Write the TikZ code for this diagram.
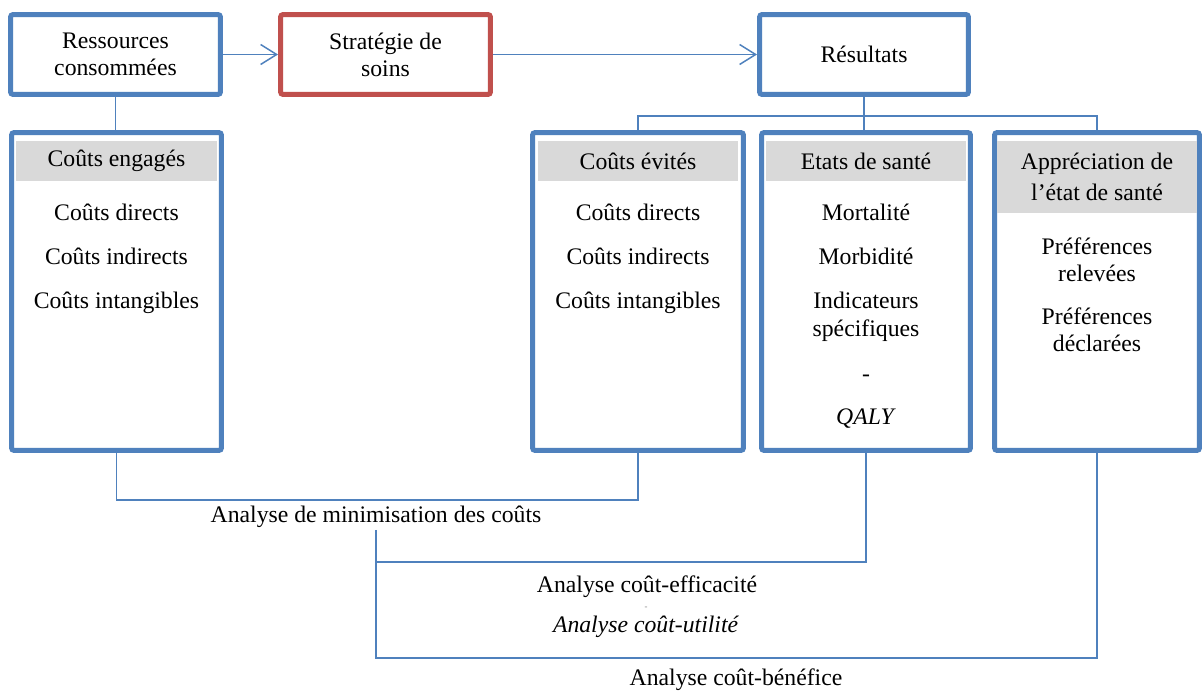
\documentclass[tikz,border=0pt]{standalone}
\usepackage{fontspec}
\setmainfont{Liberation Serif}
\usetikzlibrary{positioning,arrows.meta}

\definecolor{boxblue}{HTML}{4F81BD}
\definecolor{boxred}{HTML}{C0504D}
\definecolor{bandgray}{HTML}{D9D9D9}

\tikzset{
	box/.style = {draw=boxblue, line width=0.1cm, rounded corners=1.5pt, fill=white, align=center, minimum height=1.6cm},
	column/.style = {box, minimum height=6.36cm},
	band/.style = {fill=bandgray, minimum width=4.02cm, minimum height=0.8cm, align=center, inner sep=0pt},
	items/.style = {align=center, inner sep=0pt},
	caption/.style = {align=center, inner sep=1pt},
	link/.style = {draw=boxblue, line width=0.03cm},
	flow/.style = {link, -{Straight Barb[length=0.32cm, width=0.4cm]}}
}

\begin{document}
\begin{tikzpicture}
				[
					x = 0.02cm, y = -0.02cm,
					every node/.append style = {font=\fontsize{13.5}{15.5}\selectfont}
				]
				\useasboundingbox (0,0) rectangle (1203,692);

				\node[box, minimum width=4.2cm] (ressources) at (115.5,54.5) {Ressources\\consommées};
				\node[box, draw=boxred, minimum width=4.2cm] (strategie) at (385.5,54.5) {Stratégie de\\soins};
				\node[box, minimum width=4.18cm] (resultats) at (864,54.5) {Résultats};

				\node[column, minimum width=4.2cm] (engages) at (116.5,291.5) {};
				\node[column, minimum width=4.22cm] (evites) at (638,291.5) {};
				\node[column, minimum width=4.18cm] (etats) at (866,291.5) {};
				\node[column, minimum width=4.1cm] (apprec) at (1097,291.5) {};

				\node[band, below=0.21cm of engages.north] (engagesHead) {Coûts engagés};
				\node[band, below=0.21cm of evites.north] (evitesHead) {Coûts évités};
				\node[band, below=0.21cm of etats.north] (etatsHead) {Etats de santé};
				\node[band, minimum height=1.44cm, below=0.21cm of apprec.north] (apprecHead) {Appréciation de\\[2.7pt]l’état de santé};

				\node[items, below=0.44cm of engagesHead] (engagesList) {Coûts directs\\[9.8pt]Coûts indirects\\[9.8pt]Coûts intangibles};
				\node[items, below=0.44cm of evitesHead] (evitesList) {Coûts directs\\[9.8pt]Coûts indirects\\[9.8pt]Coûts intangibles};
				\node[items, below=0.44cm of etatsHead] (etatsList) {Mortalité\\[9.8pt]Morbidité\\[9.8pt]Indicateurs\\spécifiques\\[10pt]-\\[9.5pt]\textit{QALY}};
				\node[items, below=0.48cm of apprecHead] (apprecList) {Préférences\\relevées\\[9pt]Préférences\\déclarées};

				\draw[flow] (ressources.east) -- (strategie.west);
				\draw[flow] (strategie.east) -- (resultats.west);
				\draw[link] (ressources.south) -- (ressources.south |- engages.north);

				\coordinate (split) at (864,116);
				\draw[link] (resultats.south) -- (resultats.south |- etats.north);
				\draw[link] (evites.north) |- (split) -| (apprec.north);

				\node[caption] (minim) at (376,517) {Analyse de minimisation des coûts};
				\node[caption] (effic) at (647,587) {Analyse coût-efficacité};
				\node[caption, text=gray] (dash) at (646,608) {\tiny -};
				\node[caption] (util) at (646,627) {\textit{Analyse coût-utilité}};
				\node[caption] (benef) at (736,680) {Analyse coût-bénéfice};

				\coordinate (effRow) at (0,562);
				\coordinate (benRow) at (0,658);
				\draw[link] (engages.south) -- ++(0,47) -| (evites.south);
				\draw[link] (etats.south) |- (minim.south |- effRow);
				\draw[link] (minim.south) |- (apprec.south |- benRow) -- (apprec.south);
		\end{tikzpicture}
\end{document}
